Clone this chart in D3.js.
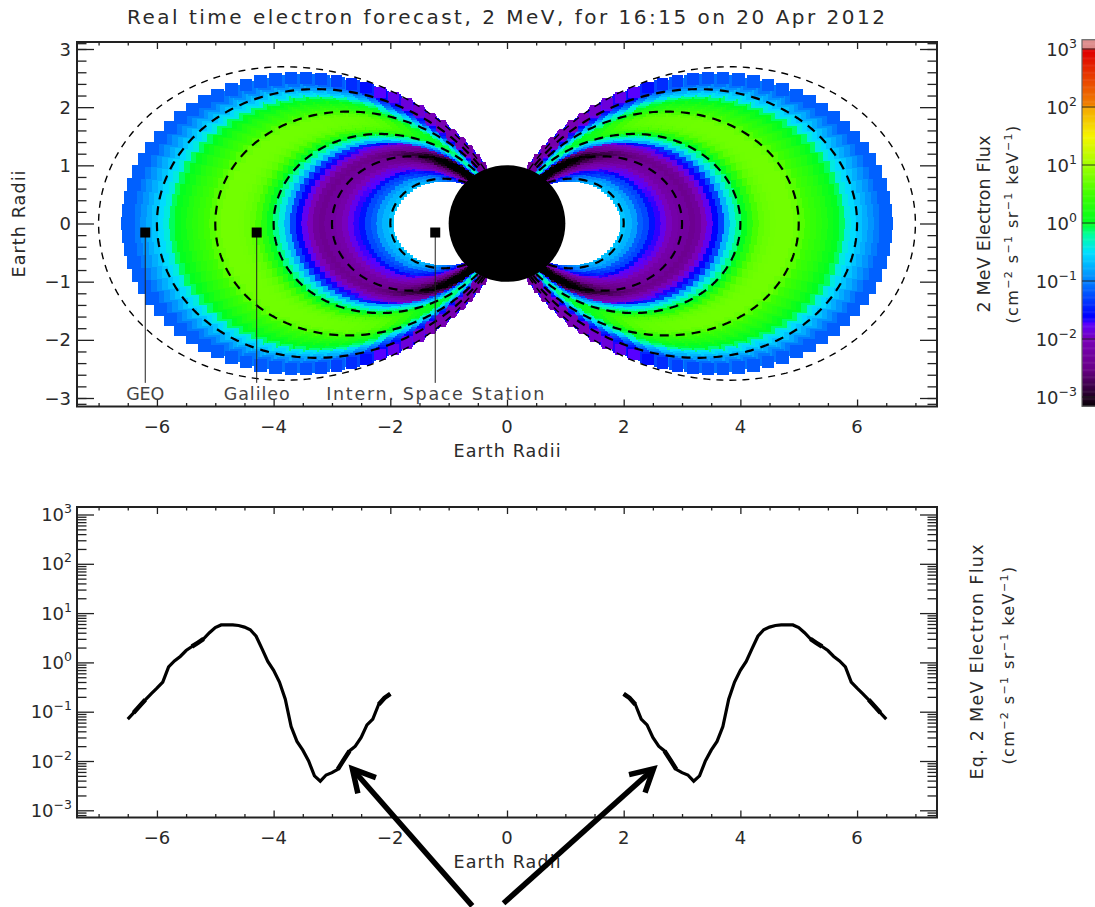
<!DOCTYPE html>
<html>
<head>
<meta charset="utf-8">
<script src="https://cdnjs.cloudflare.com/ajax/libs/d3/7.8.5/d3.min.js"></script>
<style>
    body { margin: 0; background: #fff; }
    svg { display: block; }
    text { font-family: "DejaVu Sans", sans-serif; fill: #2a2a2a; }
</style>
</head>
<body>
<script>
(function(){

    //drift shells
    var shellL = [2.0,2.1,2.2,2.3,2.4,2.5,2.6,2.7,2.8,2.9,3.0,3.1,3.2,3.3,3.4,3.5,3.6,3.7,3.8,3.9,
        4.0,4.1,4.2,4.3,4.4,4.5,4.6,4.7,4.8,4.9,5.0,5.1,5.2,5.3,5.4,5.5,5.6,5.7,5.8,5.9,
        6.0,6.1,6.2,6.3,6.4,6.5];
    var eqFlux = [0.23,0.19,0.14,0.071,0.054,0.030,0.020,0.016,0.0105,0.0068,0.0058,0.0052,0.0039,0.0050,0.010,0.0166,0.025,0.050,0.18,0.40,
        0.69,1.05,1.9,3.4,4.6,5.2,5.6,5.75,5.75,5.75,5.1,4.0,3.0,2.5,2.1,1.74,1.32,1.07,0.81,0.40,
        0.30,0.23,0.174,0.129,0.095,0.071];

    //magnetic latitude grid and how many decades the flux drops there
    var latDeg = [0,2,4,6,8,10,12,14,16,18,20,22,24,26,28,30,32,34,36,38,40,42,44,46,48,50,52,54,56,58,60,62,64,66,68];
    var latDropOuter = [0,0,0,0,0,0,0.005,0.005,0.01,0.01,0.01,0.015,0.015,0.02,0.02,0.03,0.04,0.05,0.07,0.1,
        0.15,0.25,0.4,0.57,0.65,0.72,0.78,0.85,0.9,0.95,1.0,1.05,1.1,1.15,1.2];
    //shells inside L=3.8 darken sooner
    var latDropInner = [0,0,0,0,0,0.005,0.01,0.01,0.02,0.02,0.03,0.04,0.05,0.08,0.12,0.16,0.22,0.3,0.38,0.48,
        0.6,0.75,0.9,1.05,1.2,1.32,1.45,1.58,1.7,1.8,1.9,2,2,2,2];

    //dashed field lines
    var fieldLines = [2,3,4,5,6,7];

    //satellites
    var satNames = ["GEO","Galileo","Intern. Space Station"];
    var satX = [-6.2,-4.29,-1.23];
    var satZ = [-0.155,-0.155,-0.155];
    var satLabelEnd = -2.74;

    //colour table of the flux bar (log10 flux -> colour)
    var barLogs = [-3.2,-3,-2.5,-2,-1.72,-1.7,-1.6,-1,-0.5,-0.2,0,0.5,1,1.5,2,2.05,2.95,3,3.02,3.2];
    var barColors = ["#000000","#200020","#6a0088","#7a00b8","#5a00ff","#3000ff","#0000ff","#0080ff","#00e0ff","#00ffa0","#00ff20","#40ff00","#a0ff00","#f5f500","#f5a500","#f08000","#e00000","#e00000","#dc8a8a","#e09090"];

    //tick values
    var xMajor = [-6,-4,-2,0,2,4,6];
    var xMinor = [-7,-5,-3,-1,1,3,5,7];
    var xFine = [-6.5,-5.5,-4.5,-3.5,-2.5,-1.5,-0.5,0.5,1.5,2.5,3.5,4.5,5.5,6.5];
    var zMajor = [-3,-2,-1,0,1,2,3];
    var zMinor = [-3.0,-2.8,-2.6,-2.4,-2.2,-1.8,-1.6,-1.4,-1.2,-0.8,-0.6,-0.4,-0.2,0.2,0.4,0.6,0.8,1.2,1.4,1.6,1.8,2.2,2.4,2.6,2.8,3.0,-3.1,3.1];
    var logDecades = [-3,-2,-1,0,1,2,3];
    var logMults = [2,3,4,5,6,7,8,9];

    //the two hand drawn arrows, in lower panel data units
    var arrowTails = [[-0.595,0.0000115],[-0.06,0.000013]];
    var arrowTips = [[-2.65,0.0069],[2.51,0.0069]];

    //thicker stretches of the lower curve
    var thickSpans = [[6.4,6.2],[5.4,5.2],[2.9,2.7],[2.2,2.0]];

    var width = 1095, height = 907;
    var left = 77, right = 937;

    var svg = d3.select("body").append("svg")
        .attr("width", width)
        .attr("height", height);

    var x = d3.scaleLinear().domain([-7.37,7.37]).range([left,right]);
    var z = d3.scaleLinear().domain([-3,3]).range([398,49]);
    var yFlux = d3.scaleLog().domain([1e-3,1e3]).range([810.3,514.5]);
    var yBar = d3.scaleLinear().domain([-3,3]).range([397,49]);

    var fluxColor = d3.scaleLinear()
        .domain(barLogs).range(barColors)
        .interpolate(d3.interpolateRgb).clamp(true);
    var cellSize = d3.scaleLinear().domain([2,6.5]).range([6.5,13.5]);

    drawCells();
    drawFieldLines();

    //earth
    svg.append("circle")
        .attr("cx", x(0)).attr("cy", z(0))
        .attr("r", x(1) - x(0))
        .attr("fill", "#000");

    drawSatellites();
    drawFrame(42, 406.5, z, zMajor, zMinor, labelLinear);
    drawFrame(507, 817.5, yFlux, logDecades.map(function(d){ return Math.pow(10,d); }), logMinorValues(), labelLog);
    drawCurve();
    drawBar();
    drawTexts();
    drawArrows();

    //one small square per shell and latitude
    function drawCells(){
        var cells = [];
        shellL.forEach(function(L,i){
            var drop = L < 3.8 ? latDropInner : latDropOuter;
            latDeg.forEach(function(lat,j){
                var c = Math.cos(lat*Math.PI/180);
                var r = L*c*c;
                if (r < 1) return;
                [-1,1].forEach(function(side){
                    [-1,1].forEach(function(hemi){
                        if (lat === 0 && hemi < 0) return;
                        cells.push({
                            L: L,
                            size: cellSize(L)*Math.sqrt(c),
                            x: side*r*c,
                            z: hemi*r*Math.sin(lat*Math.PI/180),
                            logFlux: Math.log10(eqFlux[i]) - drop[j]
                        });
                    });
                });
            });
        });
        //inner shells first, the outer ones sit on top
        cells.sort(function(a,b){ return a.L - b.L; });
        svg.append("g").attr("class","cells")
            .attr("shape-rendering","crispEdges")
            .selectAll("rect")
            .data(cells).enter().append("rect")
            .attr("x", function(d){ return x(d.x) - d.size/2; })
            .attr("y", function(d){ return z(d.z) - d.size/2; })
            .attr("width", function(d){ return d.size; })
            .attr("height", function(d){ return d.size; })
            .attr("fill", function(d){ return fluxColor(d.logFlux); });
    }

    function drawFieldLines(){
        var line = d3.line()
            .x(function(d){ return x(d[0]); })
            .y(function(d){ return z(d[1]); });
        fieldLines.forEach(function(L){
            var end = Math.acos(Math.sqrt(1/L));
            [-1,1].forEach(function(side){
                var pts = d3.range(-end, end + 0.005, 0.01).map(function(a){
                    var c = Math.cos(a);
                    return [side*L*c*c*c, L*c*c*Math.sin(a)];
                });
                svg.append("path")
                    .datum(pts)
                    .attr("d", line)
                    .attr("fill", "none")
                    .attr("stroke", "#000")
                    .attr("stroke-width", L === 7 ? 1.4 : 2.2)
                    .attr("stroke-dasharray", L === 7 ? "7 6" : "9 7");
            });
        });
    }

    function drawSatellites(){
        satNames.forEach(function(name,i){
            svg.append("line")
                .attr("x1", x(satX[i])).attr("x2", x(satX[i]))
                .attr("y1", z(satZ[i])).attr("y2", z(satLabelEnd))
                .attr("stroke", "#222").attr("stroke-width", 1);
            svg.append("rect")
                .attr("x", x(satX[i]) - 5).attr("y", z(satZ[i]) - 5)
                .attr("width", 10).attr("height", 10)
                .attr("fill", "#000");
            svg.append("text")
                .attr("x", x(satX[i])).attr("y", 400)
                .attr("text-anchor", "middle")
                .attr("font-size", 17.5)
                .attr("textLength", [38,66,218][i])
                .style("fill", "#444")
                .text(name);
        });
    }

    function logMinorValues(){
        var out = [];
        logDecades.forEach(function(d){
            if (d === 3) return;
            logMults.forEach(function(m){ out.push(m*Math.pow(10,d)); });
        });
        out.push(9e-4,8e-4);
        return out;
    }

    //ticks point inwards on all four sides
    function drawFrame(top, bottom, yScale, major, minor, labelFn){
        svg.append("rect")
            .attr("x", left).attr("y", top)
            .attr("width", right - left).attr("height", bottom - top)
            .attr("fill", "none").attr("stroke", "#222").attr("stroke-width", 2);

        addAxis(d3.axisTop(x).tickValues(xMajor).tickSize(7), bottom);
        addAxis(d3.axisTop(x).tickValues(xMinor.concat(xFine)).tickSize(3.5), bottom);
        addAxis(d3.axisBottom(x).tickValues(xMajor).tickSize(7), top);
        addAxis(d3.axisBottom(x).tickValues(xMinor.concat(xFine)).tickSize(3.5), top);

        addSide(d3.axisRight(yScale).tickValues(major).tickSize(17), left);
        addSide(d3.axisRight(yScale).tickValues(minor).tickSize(9.5), left);
        addSide(d3.axisLeft(yScale).tickValues(major).tickSize(17), right);
        addSide(d3.axisLeft(yScale).tickValues(minor).tickSize(9.5), right);

        labelFn(yScale, major);

        //x tick labels
        svg.append("g").selectAll("text")
            .data(xMajor).enter().append("text")
            .attr("x", function(d){ return x(d); })
            .attr("y", bottom + 26)
            .attr("text-anchor", "middle")
            .attr("font-size", 18)
            .text(function(d){ return d < 0 ? "\u2212" + (-d) : d; });

        svg.append("text")
            .attr("x", x(0)).attr("y", bottom + 50)
            .attr("text-anchor", "middle")
            .attr("font-size", 17.5)
            .attr("textLength", 107)
            .text("Earth Radii");

        function addAxis(axis, y0){
            var g = svg.append("g").attr("transform", "translate(0," + y0 + ")").call(axis);
            clean(g);
        }
        function addSide(axis, x0){
            var g = svg.append("g").attr("transform", "translate(" + x0 + ",0)").call(axis);
            clean(g);
        }
        function clean(g){
            g.select(".domain").remove();
            g.selectAll("text").remove();
            g.selectAll("line").attr("stroke", "#222").attr("stroke-width", 1.3);
        }
    }

    function labelLinear(yScale, major){
        svg.append("g").selectAll("text")
            .data(major).enter().append("text")
            .attr("x", 71)
            .attr("y", function(d){ return yScale(d) + 6.5; })
            .attr("text-anchor", "end")
            .attr("font-size", 18)
            .text(function(d){ return d < 0 ? "\u2212" + (-d) : d; });
    }

    function powerLabel(sel, exponent){
        sel.append("tspan").text("10");
        sel.append("tspan")
            .attr("dy", -8).attr("font-size", 12.5)
            .text(exponent < 0 ? "\u2212" + (-exponent) : exponent);
    }

    function labelLog(yScale, major){
        major.forEach(function(v){
            var t = svg.append("text")
                .attr("x", 72)
                .attr("y", yScale(v) + 6.5)
                .attr("text-anchor", "end")
                .attr("font-size", 18);
            powerLabel(t, Math.round(Math.log10(v)));
        });
    }

    function drawCurve(){
        var line = d3.line()
            .x(function(d){ return x(d[0]); })
            .y(function(d){ return yFlux(d[1]); });
        [-1,1].forEach(function(side){
            var pts = shellL.map(function(L,i){ return [side*L, eqFlux[i]]; });
            svg.append("path")
                .datum(pts)
                .attr("d", line)
                .attr("fill", "none")
                .attr("stroke", "#000")
                .attr("stroke-width", 3.2);
            thickSpans.forEach(function(span){
                var part = pts.filter(function(d){
                    var a = Math.abs(d[0]);
                    return a <= span[0] + 1e-6 && a >= span[1] - 1e-6;
                });
                svg.append("path")
                    .datum(part)
                    .attr("d", line)
                    .attr("fill", "none")
                    .attr("stroke", "#000")
                    .attr("stroke-width", 4.5);
            });
        });
    }

    function drawBar(){
        var barLeft = 1082, barRight = 1095;
        var steps = d3.range(-3.16, 3.16, 0.02);
        svg.append("g").selectAll("rect")
            .data(steps).enter().append("rect")
            .attr("x", barLeft).attr("width", barRight - barLeft)
            .attr("y", function(d){ return yBar(d + 0.02); })
            .attr("height", yBar(0) - yBar(0.02) + 0.5)
            .attr("fill", function(d){ return fluxColor(d + 0.01); });

        svg.append("rect")
            .attr("x", barLeft).attr("y", yBar(3.16))
            .attr("width", barRight - barLeft + 4).attr("height", yBar(-3.16) - yBar(3.16))
            .attr("fill", "none").attr("stroke", "#666").attr("stroke-width", 1.2);

        svg.append("g").selectAll("line")
            .data(logDecades).enter().append("line")
            .attr("x1", barLeft).attr("x2", barRight)
            .attr("y1", function(d){ return yBar(d); })
            .attr("y2", function(d){ return yBar(d); })
            .attr("stroke", "#222").attr("stroke-opacity", 0.75).attr("stroke-width", 1.2);

        logDecades.forEach(function(d){
            var t = svg.append("text")
                .attr("x", 1077)
                .attr("y", yBar(d) + 7)
                .attr("text-anchor", "end")
                .attr("font-size", 18);
            powerLabel(t, d);
        });
    }

    //rotated unit label with real superscripts
    function unitLabel(xPos, yPos){
        var t = svg.append("text")
            .attr("transform", "translate(" + xPos + "," + yPos + ") rotate(-90)")
            .attr("text-anchor", "middle")
            .attr("font-size", 16)
            .style("letter-spacing", "1.4px");
        [["(cm","\u22122"],[" s","\u22121"],[" sr","\u22121"],[" keV","\u22121"]].forEach(function(part){
            t.append("tspan").attr("dy", part[0] === "(cm" ? 0 : 6).text(part[0]);
            t.append("tspan").attr("dy", -6).attr("font-size", 11).text(part[1]);
        });
        t.append("tspan").attr("dy", 6).text(")");
    }

    function rotated(xPos, yPos, str, len){
        svg.append("text")
            .attr("transform", "translate(" + xPos + "," + yPos + ") rotate(-90)")
            .attr("text-anchor", "middle")
            .attr("font-size", 17.5)
            .attr("textLength", len)
            .text(str);
    }

    function drawTexts(){
        svg.append("text")
            .attr("x", 506).attr("y", 24)
            .attr("text-anchor", "middle")
            .attr("font-size", 20)
            .attr("textLength", 758)
            .text("Real time electron forecast, 2 MeV, for 16:15 on 20 Apr 2012");

        rotated(25, 224, "Earth Radii", 107);
        rotated(990, 224, "2 MeV Electron Flux", 177);
        unitLabel(1018, 224);
        rotated(983, 662, "Eq. 2 MeV Electron Flux", 235);
        unitLabel(1014, 665);
    }

    function drawArrows(){
        svg.append("defs").append("marker")
            .attr("id", "barbs")
            .attr("markerUnits", "userSpaceOnUse")
            .attr("markerWidth", 40).attr("markerHeight", 40)
            .attr("refX", 30).attr("refY", 20)
            .attr("orient", "auto")
            .append("path")
            .attr("d", "M8,8 L30,20 L8,32")
            .attr("fill", "none")
            .attr("stroke", "#000")
            .attr("stroke-width", 5.5);

        arrowTips.forEach(function(tip,i){
            svg.append("line")
                .attr("x1", x(arrowTails[i][0])).attr("y1", yFlux(arrowTails[i][1]))
                .attr("x2", x(tip[0])).attr("y2", yFlux(tip[1]))
                .attr("stroke", "#000")
                .attr("stroke-width", 5.5)
                .attr("marker-end", "url(#barbs)");
        });
    }

})();
</script>
</body>
</html>
